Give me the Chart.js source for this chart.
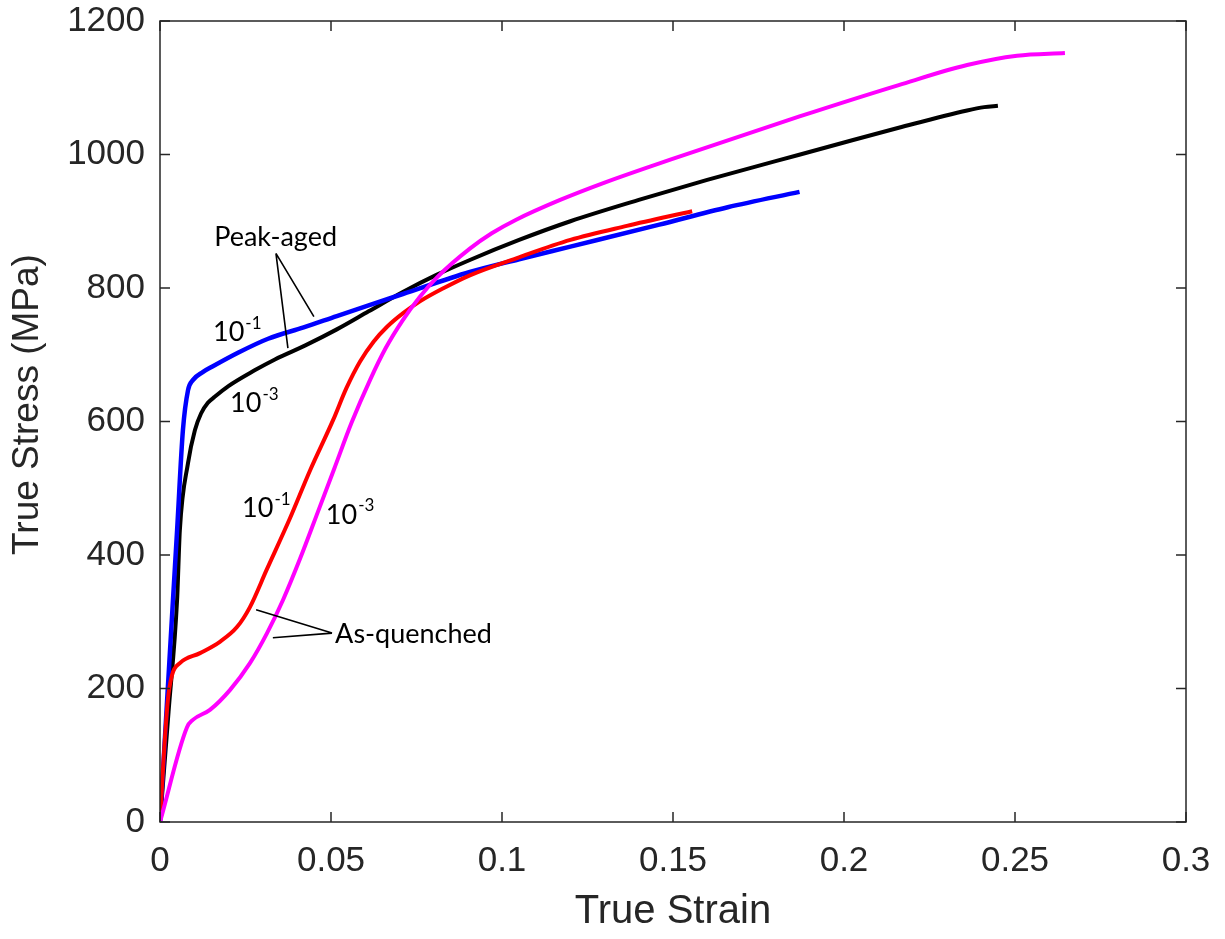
<!DOCTYPE html>
<html>
<head>
<meta charset="utf-8">
<title>True stress vs true strain</title>
<script src="https://cdn.jsdelivr.net/npm/chart.js@4.4.1/dist/chart.umd.min.js"></script>
<style>
  html, body { margin: 0; padding: 0; background: #ffffff; }
  #wrap { width: 1225px; height: 939px; position: relative; }
</style>
</head>
<body>
<div id="wrap"><canvas id="stressChart" width="1225" height="939"></canvas></div>
<script>
// peak-aged, strain rate 10^-1 (blue)
var peak1Strain = [0, 0.002, 0.0038, 0.005, 0.0067, 0.0082, 0.0096, 0.0125, 0.0152, 0.0228, 0.0316, 0.042, 0.0517, 0.061, 0.071, 0.0906, 0.105, 0.12, 0.146, 0.166, 0.187];
var peak1Stress = [0, 175, 333, 437, 587, 647, 662, 674, 682, 703, 724, 741, 758, 774, 791, 824, 843, 862, 895, 921, 944];

// peak-aged, strain rate 10^-3 (black)
var peak3Strain = [0, 0.0025, 0.005, 0.0058, 0.0082, 0.0102, 0.012, 0.014, 0.016, 0.02, 0.0278, 0.0336, 0.0425, 0.0517, 0.061, 0.071, 0.081, 0.0906, 0.105, 0.12, 0.14, 0.16, 0.18, 0.2, 0.216, 0.236, 0.241, 0.245];
var peak3Stress = [0, 165, 333, 437, 538, 587, 612, 628, 637, 653, 677, 693, 714, 738, 765, 794, 820, 842, 872, 900, 932, 962, 990, 1018, 1040, 1066, 1071, 1073];

// as-quenched, strain rate 10^-1 (red)
var quench1Strain = [0, 0.001, 0.0023, 0.0035, 0.0058, 0.0117, 0.0175, 0.0225, 0.0263, 0.0312, 0.038, 0.0439, 0.0506, 0.0545, 0.0585, 0.0625, 0.0664, 0.071, 0.076, 0.083, 0.0906, 0.105, 0.12, 0.1365, 0.1556];
var quench1Stress = [0, 90, 183, 220, 238, 253, 270, 292, 322, 378, 455, 527, 602, 650, 690, 720, 742, 762, 780, 800, 819, 846, 872, 893, 915];

// as-quenched, strain rate 10^-3 (magenta)
var quench3Strain = [0, 0.0079, 0.0096, 0.0146, 0.0205, 0.0263, 0.0313, 0.036, 0.041, 0.0462, 0.051, 0.056, 0.0614, 0.066, 0.071, 0.076, 0.081, 0.0906, 0.097, 0.104, 0.117, 0.13, 0.149, 0.187, 0.216, 0.236, 0.2506, 0.2646];
var quench3Stress = [0, 142, 153, 168, 198, 238, 283, 333, 395, 465, 530, 598, 662, 710, 752, 787, 816, 859, 882, 902, 932, 958, 992, 1057, 1104, 1134, 1148, 1152];

var xTicks = [0, 0.05, 0.1, 0.15, 0.2, 0.25, 0.3];
var yTicks = [0, 200, 400, 600, 800, 1000, 1200];

var textColor = "#262626";
var axisFont = "'Liberation Sans', Arial, sans-serif";

function toPoints(xs, ys) {
  var pts = [];
  for (var i = 0; i < xs.length; i++) {
    pts.push({x: xs[i], y: ys[i]});
  }
  return pts;
}

function curve(label, xs, ys, color, width) {
  return {
    label: label,
    data: toPoints(xs, ys),
    borderColor: color,
    backgroundColor: color,
    borderWidth: width,
    showLine: true,
    pointRadius: 0,
    fill: false,
    cubicInterpolationMode: 'monotone'
  };
}

// frame box with inward ticks on all four sides, plus the y title
var framePlugin = {
  id: 'frame',
  afterDatasetsDraw: function(chart) {
    var ctx = chart.ctx;
    var a = chart.chartArea;
    var xs = chart.scales.x, ys = chart.scales.y;
    var tl = 10;
    ctx.save();
    ctx.strokeStyle = textColor;
    ctx.lineWidth = 1.5;
    ctx.strokeRect(a.left, a.top, a.right - a.left, a.bottom - a.top);
    ctx.beginPath();
    xTicks.forEach(function(v) {
      var px = xs.getPixelForValue(v);
      ctx.moveTo(px, a.bottom); ctx.lineTo(px, a.bottom - tl);
      ctx.moveTo(px, a.top); ctx.lineTo(px, a.top + tl);
    });
    yTicks.forEach(function(v) {
      var py = ys.getPixelForValue(v);
      ctx.moveTo(a.left, py); ctx.lineTo(a.left + tl, py);
      ctx.moveTo(a.right, py); ctx.lineTo(a.right - tl, py);
    });
    ctx.stroke();

    // y axis title, centred a bit above the middle like the original
    ctx.translate(28, (a.top + a.bottom) / 2 - 17);
    ctx.rotate(-Math.PI / 2);
    ctx.fillStyle = textColor;
    ctx.font = "37px " + axisFont;
    ctx.textAlign = "center";
    ctx.textBaseline = "middle";
    ctx.fillText("True Stress (MPa)", 0, 0);
    ctx.restore();
  }
};

// text labels and leader lines, placed in data coordinates
var labelFont = "Lato, 'Open Sans', sans-serif";

function rateLabel(ctx, xs, ys, sx, sy, exp) {
  var px = xs.getPixelForValue(sx);
  var py = ys.getPixelForValue(sy);
  ctx.font = "27px " + labelFont;
  ctx.textAlign = "left";
  ctx.textBaseline = "middle";
  ctx.fillText("10", px, py);
  var w = ctx.measureText("10").width;
  ctx.font = "17px " + labelFont;
  ctx.fillText(exp, px + w + 1, py - 9);
}

function leader(ctx, xs, ys, x0, y0, x1, y1) {
  ctx.moveTo(xs.getPixelForValue(x0), ys.getPixelForValue(y0));
  ctx.lineTo(xs.getPixelForValue(x1), ys.getPixelForValue(y1));
}

var notesPlugin = {
  id: 'notes',
  afterDatasetsDraw: function(chart) {
    var ctx = chart.ctx;
    var xs = chart.scales.x, ys = chart.scales.y;
    ctx.save();
    ctx.fillStyle = "#000000";
    ctx.strokeStyle = "#000000";
    ctx.lineWidth = 1.6;

    ctx.font = "27px " + labelFont;
    ctx.textAlign = "center";
    ctx.textBaseline = "middle";
    ctx.fillText("Peak-aged", xs.getPixelForValue(0.0338), ys.getPixelForValue(876));
    ctx.textAlign = "left";
    ctx.fillText("As-quenched", xs.getPixelForValue(0.0512), ys.getPixelForValue(281));

    ctx.beginPath();
    leader(ctx, xs, ys, 0.0339, 852, 0.0374, 710);
    leader(ctx, xs, ys, 0.0339, 852, 0.045, 757);
    leader(ctx, xs, ys, 0.0503, 283, 0.0281, 318);
    leader(ctx, xs, ys, 0.0503, 283, 0.033, 276);
    ctx.stroke();

    rateLabel(ctx, xs, ys, 0.0155, 734, "-1");
    rateLabel(ctx, xs, ys, 0.0205, 627, "-3");
    rateLabel(ctx, xs, ys, 0.024, 470, "-1");
    rateLabel(ctx, xs, ys, 0.0485, 460, "-3");
    ctx.restore();
  }
};

var ctx = document.getElementById('stressChart');

var myChart = new Chart(ctx, {
  type: 'scatter',
  data: {
    datasets: [
      curve("As-quenched 10^-3", quench3Strain, quench3Stress, "#ff00ff", 4),
      curve("As-quenched 10^-1", quench1Strain, quench1Stress, "#ff0000", 4),
      curve("Peak-aged 10^-1", peak1Strain, peak1Stress, "#0000ff", 4.5),
      curve("Peak-aged 10^-3", peak3Strain, peak3Stress, "#000000", 4)
    ]
  },
  options: {
    responsive: false,
    animation: false,
    layout: {
      padding: {
        left: 0,
        right: 39,
        top: 21,
        bottom: 0
      }
    },
    plugins: {
      legend: { display: false },
      tooltip: { enabled: false }
    },
    scales: {
      x: {
        type: 'linear',
        min: 0,
        max: 0.3,
        afterFit: function(scale) {
          scale.height = 117;
          scale.paddingLeft = 0;
          scale.paddingRight = 0;
        },
        afterBuildTicks: function(scale) {
          scale.ticks = xTicks.map(function(v) { return {value: v}; });
        },
        grid: { display: false, drawTicks: false },
        border: { display: false },
        ticks: {
          autoSkip: false,
          maxRotation: 0,
          padding: 18,
          color: textColor,
          font: { family: axisFont, size: 35 },
          callback: function(v) { return String(Number(v.toFixed(2))); }
        },
        title: {
          display: true,
          text: "True Strain",
          color: textColor,
          padding: { top: 0, bottom: 3 },
          font: { family: axisFont, size: 40 }
        }
      },
      y: {
        type: 'linear',
        min: 0,
        max: 1200,
        afterFit: function(scale) {
          scale.width = 160;
          scale.paddingTop = 0;
          scale.paddingBottom = 0;
        },
        afterBuildTicks: function(scale) {
          scale.ticks = yTicks.map(function(v) { return {value: v}; });
        },
        grid: { display: false, drawTicks: false },
        border: { display: false },
        ticks: {
          autoSkip: false,
          padding: 15,
          color: textColor,
          font: { family: axisFont, size: 35 },
          callback: function(v) { return String(v); }
        },
        title: { display: false }
      }
    }
  },
  plugins: [framePlugin, notesPlugin]
});
</script>
</body>
</html>
